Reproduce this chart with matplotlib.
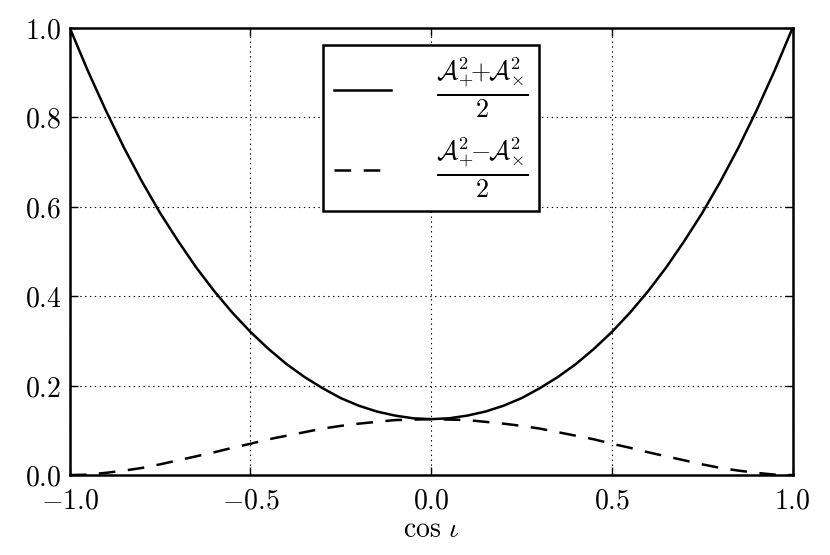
import matplotlib
matplotlib.use("Agg")
import matplotlib.pyplot as plt

# cos(iota) samples and curve values
cos_iota = [-1.0, -0.95, -0.9, -0.85, -0.8, -0.75, -0.7, -0.65, -0.6, -0.55, -0.5,
            -0.45, -0.4, -0.35, -0.3, -0.25, -0.2, -0.15, -0.1, -0.05, 0.0,
            0.05, 0.1, 0.15, 0.2, 0.25, 0.3, 0.35, 0.4, 0.45, 0.5,
            0.55, 0.6, 0.65, 0.7, 0.75, 0.8, 0.85, 0.9, 0.95, 1.0]
sum_vals = [1.000, 0.904, 0.815, 0.732, 0.656, 0.586, 0.523, 0.464, 0.411, 0.363, 0.320,
            0.282, 0.248, 0.219, 0.194, 0.172, 0.155, 0.142, 0.133, 0.127, 0.125,
            0.127, 0.133, 0.142, 0.155, 0.172, 0.194, 0.219, 0.248, 0.282, 0.320,
            0.363, 0.411, 0.464, 0.523, 0.586, 0.656, 0.732, 0.815, 0.904, 1.000]
diff_vals = [0.000, 0.001, 0.005, 0.010, 0.016, 0.024, 0.033, 0.042, 0.051, 0.061, 0.070,
             0.080, 0.088, 0.096, 0.104, 0.110, 0.115, 0.119, 0.123, 0.124, 0.125,
             0.124, 0.123, 0.119, 0.115, 0.110, 0.104, 0.096, 0.088, 0.080, 0.070,
             0.061, 0.051, 0.042, 0.033, 0.024, 0.016, 0.010, 0.005, 0.001, 0.000]

x_ticks = [-1.0, -0.5, 0.0, 0.5, 1.0]
y_ticks = [0.0, 0.2, 0.4, 0.6, 0.8, 1.0]

plt.rcParams["mathtext.fontset"] = "cm"
plt.rcParams["font.family"] = ["DejaVu Serif"]
plt.rcParams["lines.scale_dashes"] = False

fig = plt.figure(figsize=(8.3, 5.55), dpi=100)
ax = fig.add_axes([0.084, 0.144, 0.871, 0.806])

ax.plot(cos_iota, sum_vals, color="black", lw=1.8,
        label=r"$\frac{\mathcal{A}_{+}^{2}\!\!+\!\!\mathcal{A}_{\times}^{2}}{2}$")
ax.plot(cos_iota, diff_vals, color="black", lw=1.8, dashes=(12, 9),
        label=r"$\frac{\mathcal{A}_{+}^{2}\!\!-\!\!\mathcal{A}_{\times}^{2}}{2}$")

ax.set_xlim(-1, 1)
ax.set_ylim(0, 1)
ax.set_xticks(x_ticks)
ax.set_yticks(y_ticks)
ax.set_xticklabels([r"$%.1f$" % v for v in x_ticks])
ax.set_yticklabels([r"$%.1f$" % v for v in y_ticks])
ax.tick_params(direction="in", top=True, right=True, length=6, width=1, labelsize=20, pad=6)
ax.tick_params(axis="x", pad=9)
for s in ax.spines.values():
    s.set_linewidth(1.8)
ax.grid(True, color="black", linestyle=(0, (1, 2.5)), linewidth=0.8)

ax.set_xlabel(r"$\cos\,\iota$", fontsize=20, labelpad=1)

leg = ax.legend(loc="upper center", bbox_to_anchor=(0.5, 0.962), fontsize=27,
                handlelength=1.5, handletextpad=1.2, borderpad=0.3,
                labelspacing=0.42, fancybox=False, borderaxespad=0)
leg.get_frame().set_edgecolor("black")
leg.get_frame().set_linewidth(1.8)
leg.get_frame().set_alpha(1)

fig.savefig("out.png", dpi=100)
